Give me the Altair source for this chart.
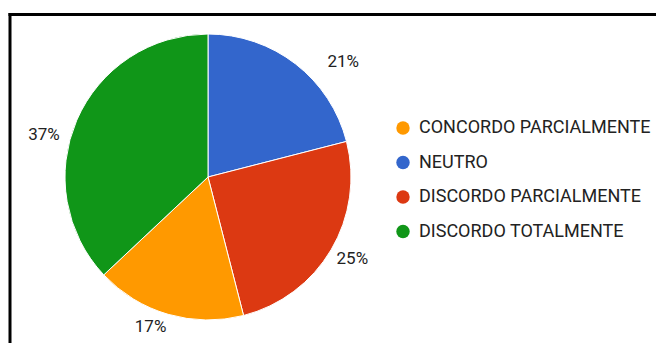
import altair as alt
import pandas as pd

# Slices in clockwise order starting at 12 o'clock
categories = ["NEUTRO", "DISCORDO PARCIALMENTE", "CONCORDO PARCIALMENTE", "DISCORDO TOTALMENTE"]
values = [21, 25, 17, 37]
labels = ["21%", "25%", "17%", "37%"]
legend_order = ["CONCORDO PARCIALMENTE", "NEUTRO", "DISCORDO PARCIALMENTE", "DISCORDO TOTALMENTE"]
legend_colors = ["#ff9900", "#3366cc", "#dc3912", "#109618"]

df = pd.DataFrame({
    "cat": categories,
    "val": values,
    "label": labels,
    "order": list(range(len(categories))),
})

FONT = "Roboto"
CX, CY, R = 208, 177, 143

base = alt.Chart(df)

pie = base.mark_arc(outerRadius=R, stroke="white", strokeWidth=1).encode(
    theta=alt.Theta("val:Q", stack=True),
    order=alt.Order("order:Q"),
    color=alt.Color(
        "cat:N",
        scale=alt.Scale(domain=legend_order, range=legend_colors),
        title=None,
        legend=alt.Legend(
            orient="none", legendX=394, legendY=119, symbolType="circle",
            symbolSize=180, labelFontSize=18, labelFont=FONT, labelColor="#222222",
            rowPadding=16.5, labelOffset=7, padding=0, symbolStrokeWidth=0,
            labelLimit=400,
        ),
    ),
    x=alt.value(CX),
    y=alt.value(CY),
)

offsets = {
    "NEUTRO": (31, 19),
    "DISCORDO PARCIALMENTE": (-2, -5),
    "CONCORDO PARCIALMENTE": (-10, -13),
    "DISCORDO TOTALMENTE": (-8, 26),
}

texts = []
for cat in categories:
    dx, dy = offsets[cat]
    t = base.mark_text(radius=170, fontSize=17, font=FONT, color="#222222", dx=dx, dy=dy).encode(
        theta=alt.Theta("val:Q", stack=True),
        order=alt.Order("order:Q"),
        text="label:N",
        x=alt.value(CX),
        y=alt.value(CY),
        opacity=alt.condition(alt.datum.cat == cat, alt.value(1), alt.value(0)),
    )
    texts.append(t)

top_rule = alt.Chart(pd.DataFrame({"a": [0]})).mark_rule(color="black", strokeWidth=3).encode(
    x=alt.value(8.5), x2=alt.value(660), y=alt.value(14.5)
)
left_rule = alt.Chart(pd.DataFrame({"a": [0]})).mark_rule(color="black", strokeWidth=3).encode(
    x=alt.value(10), y=alt.value(13), y2=alt.value(350)
)

chart = alt.layer(pie, *texts, top_rule, left_rule).properties(
    width=656, height=343, autosize=alt.AutoSizeParams(type="none"), padding=0,
    background="white",
).configure_view(stroke=None)

chart.save("out.html", embed_options={"renderer": "svg", "actions": False})
